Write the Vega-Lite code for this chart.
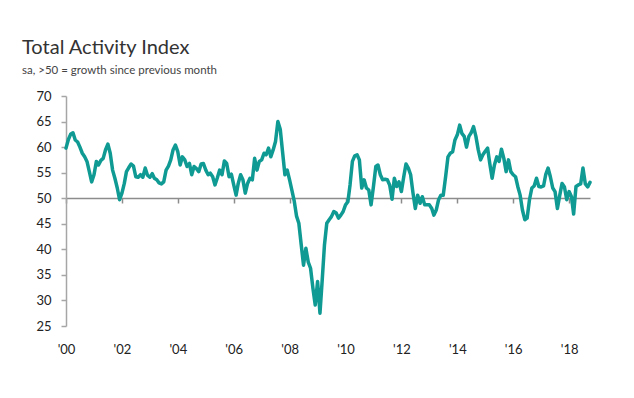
{
  "$schema": "https://vega.github.io/schema/vega-lite/v6.json",
  "autosize": "none",
  "padding": {"left": 66, "top": 96, "right": 44, "bottom": 72},
  "width": 524,
  "height": 230,
  "background": "white",
  "config": {"view": {"stroke": null}, "font": "Lato"},
  "title": {
    "text": "Total Activity Index",
    "subtitle": "sa, >50 = growth since previous month",
    "anchor": "start",
    "frame": "group",
    "dx": -44,
    "fontSize": 20,
    "fontWeight": "normal",
    "color": "#333333",
    "subtitleFontSize": 11.5,
    "subtitleColor": "#444444",
    "subtitlePadding": 7,
    "offset": 14
  },
  "data": {
    "values": [
{"m":"2000-01","v":59.8},{"m":"2000-02","v":61.5},{"m":"2000-03","v":62.5},{"m":"2000-04","v":62.8},{"m":"2000-05","v":61.4},{"m":"2000-06","v":61.0},{"m":"2000-07","v":60.0},{"m":"2000-08","v":58.8},{"m":"2000-09","v":58.1},{"m":"2000-10","v":57.2},{"m":"2000-11","v":55.2},{"m":"2000-12","v":53.2},
{"m":"2001-01","v":54.6},{"m":"2001-02","v":57.2},{"m":"2001-03","v":56.5},{"m":"2001-04","v":57.4},{"m":"2001-05","v":57.8},{"m":"2001-06","v":59.5},{"m":"2001-07","v":60.6},{"m":"2001-08","v":58.8},{"m":"2001-09","v":55.5},{"m":"2001-10","v":53.9},{"m":"2001-11","v":52.0},{"m":"2001-12","v":49.7},
{"m":"2002-01","v":51.0},{"m":"2002-02","v":52.9},{"m":"2002-03","v":55.2},{"m":"2002-04","v":56.0},{"m":"2002-05","v":56.7},{"m":"2002-06","v":56.3},{"m":"2002-07","v":54.2},{"m":"2002-08","v":54.1},{"m":"2002-09","v":54.6},{"m":"2002-10","v":54.1},{"m":"2002-11","v":55.9},{"m":"2002-12","v":54.5},
{"m":"2003-01","v":54.1},{"m":"2003-02","v":54.8},{"m":"2003-03","v":53.9},{"m":"2003-04","v":53.6},{"m":"2003-05","v":53.0},{"m":"2003-06","v":52.8},{"m":"2003-07","v":53.2},{"m":"2003-08","v":55.5},{"m":"2003-09","v":56.3},{"m":"2003-10","v":57.5},{"m":"2003-11","v":59.5},{"m":"2003-12","v":60.4},
{"m":"2004-01","v":59.1},{"m":"2004-02","v":56.5},{"m":"2004-03","v":58.1},{"m":"2004-04","v":57.5},{"m":"2004-05","v":56.2},{"m":"2004-06","v":56.8},{"m":"2004-07","v":54.6},{"m":"2004-08","v":56.2},{"m":"2004-09","v":55.8},{"m":"2004-10","v":55.2},{"m":"2004-11","v":56.7},{"m":"2004-12","v":56.8},
{"m":"2005-01","v":55.5},{"m":"2005-02","v":54.6},{"m":"2005-03","v":54.9},{"m":"2005-04","v":54.2},{"m":"2005-05","v":52.6},{"m":"2005-06","v":54.0},{"m":"2005-07","v":55.5},{"m":"2005-08","v":54.6},{"m":"2005-09","v":57.3},{"m":"2005-10","v":56.8},{"m":"2005-11","v":54.2},{"m":"2005-12","v":54.7},
{"m":"2006-01","v":52.6},{"m":"2006-02","v":50.6},{"m":"2006-03","v":52.9},{"m":"2006-04","v":54.6},{"m":"2006-05","v":53.6},{"m":"2006-06","v":51.0},{"m":"2006-07","v":52.9},{"m":"2006-08","v":53.9},{"m":"2006-09","v":53.6},{"m":"2006-10","v":57.8},{"m":"2006-11","v":55.5},{"m":"2006-12","v":57.2},
{"m":"2007-01","v":57.5},{"m":"2007-02","v":58.8},{"m":"2007-03","v":58.5},{"m":"2007-04","v":59.8},{"m":"2007-05","v":58.1},{"m":"2007-06","v":59.5},{"m":"2007-07","v":61.1},{"m":"2007-08","v":65.0},{"m":"2007-09","v":63.5},{"m":"2007-10","v":59.1},{"m":"2007-11","v":54.6},{"m":"2007-12","v":55.5},
{"m":"2008-01","v":53.6},{"m":"2008-02","v":51.5},{"m":"2008-03","v":49.5},{"m":"2008-04","v":46.5},{"m":"2008-05","v":45.1},{"m":"2008-06","v":40.9},{"m":"2008-07","v":36.9},{"m":"2008-08","v":40.2},{"m":"2008-09","v":37.5},{"m":"2008-10","v":36.3},{"m":"2008-11","v":32.4},{"m":"2008-12","v":29.1},
{"m":"2009-01","v":33.7},{"m":"2009-02","v":27.5},{"m":"2009-03","v":33.7},{"m":"2009-04","v":40.9},{"m":"2009-05","v":45.1},{"m":"2009-06","v":45.8},{"m":"2009-07","v":46.4},{"m":"2009-08","v":47.4},{"m":"2009-09","v":47.1},{"m":"2009-10","v":46.1},{"m":"2009-11","v":46.7},{"m":"2009-12","v":47.4},
{"m":"2010-01","v":48.7},{"m":"2010-02","v":49.3},{"m":"2010-03","v":52.6},{"m":"2010-04","v":57.2},{"m":"2010-05","v":58.3},{"m":"2010-06","v":58.5},{"m":"2010-07","v":57.5},{"m":"2010-08","v":52.0},{"m":"2010-09","v":53.6},{"m":"2010-10","v":52.0},{"m":"2010-11","v":51.6},{"m":"2010-12","v":48.7},
{"m":"2011-01","v":52.3},{"m":"2011-02","v":56.2},{"m":"2011-03","v":56.5},{"m":"2011-04","v":54.6},{"m":"2011-05","v":53.6},{"m":"2011-06","v":53.7},{"m":"2011-07","v":53.6},{"m":"2011-08","v":52.6},{"m":"2011-09","v":49.8},{"m":"2011-10","v":53.9},{"m":"2011-11","v":52.3},{"m":"2011-12","v":53.2},
{"m":"2012-01","v":51.3},{"m":"2012-02","v":54.2},{"m":"2012-03","v":56.7},{"m":"2012-04","v":55.9},{"m":"2012-05","v":54.6},{"m":"2012-06","v":51.0},{"m":"2012-07","v":48.0},{"m":"2012-08","v":50.6},{"m":"2012-09","v":49.0},{"m":"2012-10","v":50.3},{"m":"2012-11","v":48.7},{"m":"2012-12","v":48.7},
{"m":"2013-01","v":48.7},{"m":"2013-02","v":48.0},{"m":"2013-03","v":46.7},{"m":"2013-04","v":47.7},{"m":"2013-05","v":49.7},{"m":"2013-06","v":50.6},{"m":"2013-07","v":50.6},{"m":"2013-08","v":54.2},{"m":"2013-09","v":58.1},{"m":"2013-10","v":58.8},{"m":"2013-11","v":59.1},{"m":"2013-12","v":61.4},
{"m":"2014-01","v":62.4},{"m":"2014-02","v":64.3},{"m":"2014-03","v":62.7},{"m":"2014-04","v":62.1},{"m":"2014-05","v":60.0},{"m":"2014-06","v":62.1},{"m":"2014-07","v":62.8},{"m":"2014-08","v":64.0},{"m":"2014-09","v":62.1},{"m":"2014-10","v":59.5},{"m":"2014-11","v":57.5},{"m":"2014-12","v":58.5},
{"m":"2015-01","v":59.2},{"m":"2015-02","v":59.8},{"m":"2015-03","v":56.8},{"m":"2015-04","v":53.9},{"m":"2015-05","v":56.5},{"m":"2015-06","v":58.1},{"m":"2015-07","v":57.2},{"m":"2015-08","v":59.6},{"m":"2015-09","v":57.8},{"m":"2015-10","v":55.2},{"m":"2015-11","v":57.5},{"m":"2015-12","v":55.2},
{"m":"2016-01","v":54.6},{"m":"2016-02","v":54.2},{"m":"2016-03","v":52.3},{"m":"2016-04","v":50.6},{"m":"2016-05","v":47.7},{"m":"2016-06","v":45.8},{"m":"2016-07","v":46.1},{"m":"2016-08","v":49.7},{"m":"2016-09","v":52.0},{"m":"2016-10","v":52.4},{"m":"2016-11","v":53.9},{"m":"2016-12","v":52.3},
{"m":"2017-01","v":52.2},{"m":"2017-02","v":52.4},{"m":"2017-03","v":54.6},{"m":"2017-04","v":55.9},{"m":"2017-05","v":54.2},{"m":"2017-06","v":52.0},{"m":"2017-07","v":51.3},{"m":"2017-08","v":48.0},{"m":"2017-09","v":50.6},{"m":"2017-10","v":52.9},{"m":"2017-11","v":52.2},{"m":"2017-12","v":49.7},
{"m":"2018-01","v":51.3},{"m":"2018-02","v":50.3},{"m":"2018-03","v":46.9},{"m":"2018-04","v":52.3},{"m":"2018-05","v":52.6},{"m":"2018-06","v":52.8},{"m":"2018-07","v":55.9},{"m":"2018-08","v":52.8},{"m":"2018-09","v":52.2},{"m":"2018-10","v":53.1}
    ],
    "format": {"parse": {"m": "date:'%Y-%m'"}}
  },
  "mark": {"type": "line", "color": "#0f9a93", "strokeWidth": 3.5, "strokeJoin": "round", "strokeCap": "round", "interpolate": "linear"},
  "encoding": {
    "x": {
      "field": "m",
      "type": "temporal",
      "scale": {"domain": [{"year": 2000, "month": 1, "date": 1}, {"year": 2018, "month": 10, "date": 1}]},
      "axis": {
        "title": null,
        "format": "'%y",
        "tickCount": {"interval": "year", "step": 2},
        "grid": false,
        "offset": -128,
        "domainColor": "#8c8c8c",
        "domainWidth": 1.5,
        "tickColor": "#8c8c8c",
        "tickWidth": 1.5,
        "tickSize": 5,
        "labelPadding": 140,
        "labelFlush": false,
        "labelFontSize": 13,
        "labelColor": "#222222",
        "labelFont": "Lato"
      }
    },
    "y": {
      "field": "v",
      "type": "quantitative",
      "scale": {"domain": [25, 70], "nice": false, "zero": false},
      "axis": {
        "title": null,
        "values": [25, 30, 35, 40, 45, 50, 55, 60, 65, 70],
        "grid": false,
        "domainColor": "#a6a6a6",
        "domainWidth": 1.5,
        "tickColor": "#a6a6a6",
        "tickWidth": 1.5,
        "tickSize": 5,
        "labelPadding": 10,
        "labelFontSize": 13,
        "labelColor": "#222222",
        "labelFont": "Lato"
      }
    }
  }
}
